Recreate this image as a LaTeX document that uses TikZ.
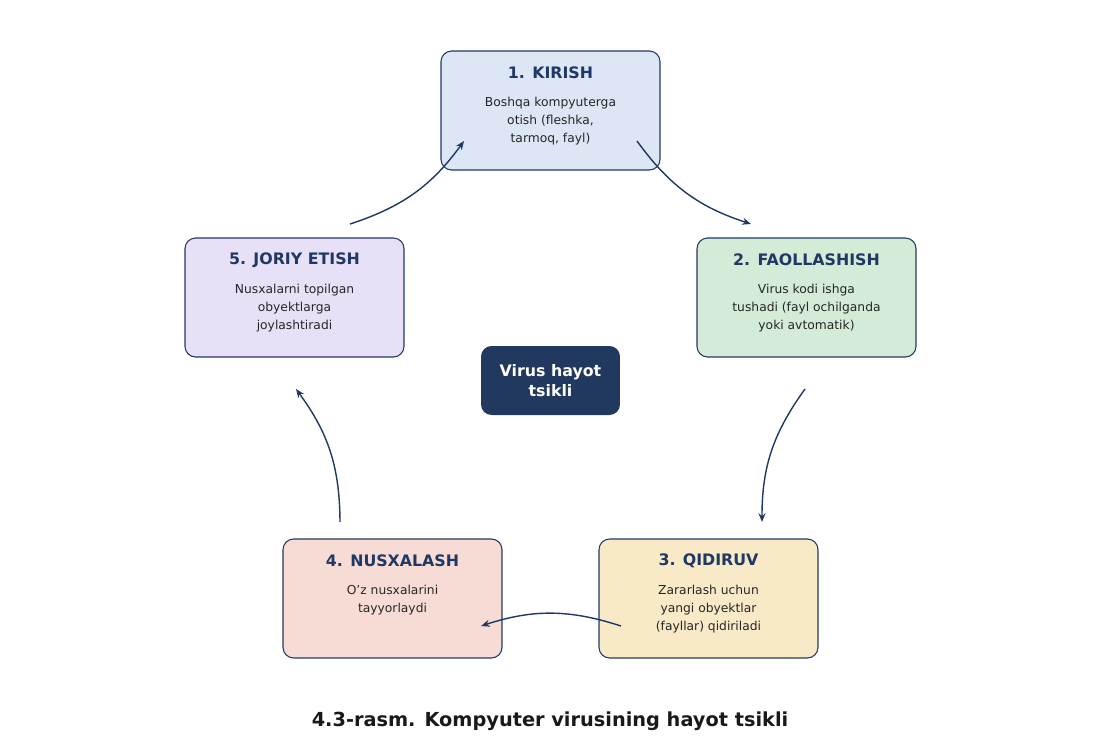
\documentclass[tikz,border=0pt]{standalone}
\usepackage{fontspec}
\setmainfont{DejaVu Sans}
\usetikzlibrary{positioning,arrows.meta}
\definecolor{navy}{HTML}{1F3864}
\definecolor{cbg}{HTML}{21385F}
\begin{document}
\begin{tikzpicture}[x=0.02cm, y=-0.02cm,
    stage/.style={rectangle, draw=navy, semithick, rounded corners=6pt, minimum width=4.38cm, minimum height=2.38cm, inner sep=0pt},
    head/.style={font=\fontsize{9}{11}\selectfont\bfseries, text=navy},
    body/.style={font=\fontsize{7}{10.2}\selectfont, text=black!85, align=center},
    loop/.style={-{Stealth[length=5pt,width=4pt]}, navy, thick, bend right=18}
]
\useasboundingbox (0,0) rectangle (1100,745);

% Stages
\node[stage, fill={rgb,255:red,220;green,230;blue,245}] (kir) at (550.5,110.5) {};
\node[stage, fill={rgb,255:red,212;green,235;blue,216}] (fao) at (806.5,297.5) {};
\node[stage, fill={rgb,255:red,248;green,234;blue,199}] (qid) at (708.5,598.5) {};
\node[stage, fill={rgb,255:red,247;green,220;blue,214}] (nus) at (392.5,598.5) {};
\node[stage, fill={rgb,255:red,232;green,224;blue,246}] (jor) at (294.5,297.5) {};

% Texts
\node[head] (kirh) at (550.5,73) {1. KIRISH};
\node[body] (kirb) at (550.5,121) {Boshqa kompyuterga\\otish (fleshka,\\tarmoq, fayl)};
\node[head] (faoh) at (806.5,260) {2. FAOLLASHISH};
\node[body] (faob) at (806.5,308) {Virus kodi ishga\\tushadi (fayl ochilganda\\yoki avtomatik)};
\node[head] (qidh) at (708.5,561) {3. QIDIRUV};
\node[body] (qidb) at (708.5,609) {Zararlash uchun\\yangi obyektlar\\(fayllar) qidiriladi};
\node[head] (nush) at (392.5,561) {4. NUSXALASH};
\node[body] (nusb) at (392.5,600) {O'z nusxalarini\\tayyorlaydi};
\node[head] (jorh) at (294.5,260) {5. JORIY ETISH};
\node[body] (jorb) at (294.5,308) {Nusxalarni topilgan\\obyektlarga\\joylashtiradi};

% Centre
\node[rectangle, rounded corners=6pt, fill=cbg, minimum width=2.78cm, minimum height=1.38cm, align=center, text=white, font=\fontsize{9}{11}\selectfont\bfseries] (mid) at (550.5,380.5) {Virus hayot\\tsikli};

% Arrow ends
\coordinate (a1) at (637,141); \coordinate (b1) at (751,224);
\coordinate (a2) at (805,389); \coordinate (b2) at (762,522);
\coordinate (a3) at (621,626); \coordinate (b3) at (481,626);
\coordinate (a4) at (340,522); \coordinate (b4) at (296,389);
\coordinate (a5) at (350,224); \coordinate (b5) at (464,141);
\draw[loop] (a1) to (b1);
\draw[loop] (a2) to (b2);
\draw[loop] (a3) to (b3);
\draw[loop] (a4) to (b4);
\draw[loop] (a5) to (b5);

% Caption
\node[font=\fontsize{11}{13}\selectfont\bfseries, text=black!90] (cap) at (550,721) {4.3-rasm. Kompyuter virusining hayot tsikli};
\end{tikzpicture}
\end{document}
